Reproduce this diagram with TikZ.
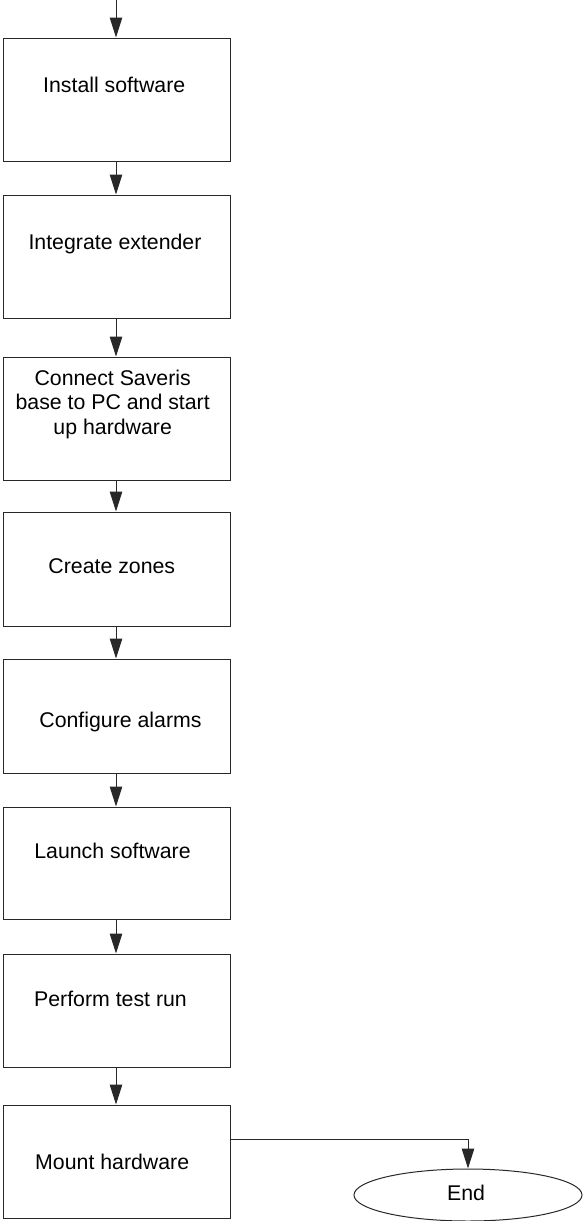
\documentclass[tikz,border=0pt]{standalone}
\usepackage{fontspec}
\setmainfont{Liberation Sans}
\usetikzlibrary{arrows.meta,shapes.geometric}
\definecolor{linec}{RGB}{40,40,40}
\begin{document}
\begin{tikzpicture}[x=1pt,y=-1pt,
  stepbox/.style={draw=linec,line width=1pt,rectangle,minimum width=226.7pt,inner sep=0pt},
  lbl/.style={anchor=base,inner sep=0pt,font=\fontsize{21.3}{24.5}\selectfont},
  conn/.style={draw=linec,line width=1pt,-{Triangle[length=20pt,width=12.5pt]}},
  endnode/.style={draw=linec,line width=1pt,ellipse,minimum width=228pt,minimum height=52pt,inner sep=0pt}]
\useasboundingbox (0,0) rectangle (584,1221);
\coordinate (start) at (116,0);
\node[stepbox,minimum height=123pt] (b1) at (116.7,99.5) {};
\node[stepbox,minimum height=123pt] (b2) at (116.7,256.5) {};
\node[stepbox,minimum height=123pt] (b3) at (116.7,418.5) {};
\node[stepbox,minimum height=114pt] (b4) at (116.7,569) {};
\node[stepbox,minimum height=114pt] (b5) at (116.7,716) {};
\node[stepbox,minimum height=112pt] (b6) at (116.7,863) {};
\node[stepbox,minimum height=113pt] (b7) at (116.7,1010.5) {};
\node[stepbox,minimum height=113pt] (b8) at (116.7,1161.5) {};
\node[endnode] (e) at (468,1195) {};
\node[lbl] (t1) at (114.2,92) {Install software};
\node[lbl] (t2) at (115,249) {Integrate extender};
\node[lbl,anchor=center,align=center] (t3) at (112.7,404) {Connect Saveris\\base to PC and start\\up hardware};
\node[lbl] (t4) at (111.8,573) {Create zones};
\node[lbl] (t5) at (120.5,727) {Configure alarms};
\node[lbl] (t6) at (112.5,858) {Launch software};
\node[lbl] (t7) at (110.5,1006) {Perform test run};
\node[lbl] (t8) at (112.2,1169) {Mount hardware};
\node[lbl] (te) at (466,1200) {End};
\draw[conn] (start) -- (start |- b1.north);
\draw[conn] (start |- b1.south) -- (start |- b2.north);
\draw[conn] (start |- b2.south) -- (start |- b3.north);
\draw[conn] (start |- b3.south) -- (start |- b4.north);
\draw[conn] (start |- b4.south) -- (start |- b5.north);
\draw[conn] (start |- b5.south) -- (start |- b6.north);
\draw[conn] (start |- b6.south) -- (start |- b7.north);
\draw[conn] (start |- b7.south) -- (start |- b8.north);
\draw[conn] ([yshift=22.5pt]b8.east) -| (e.north);
\end{tikzpicture}
\end{document}
